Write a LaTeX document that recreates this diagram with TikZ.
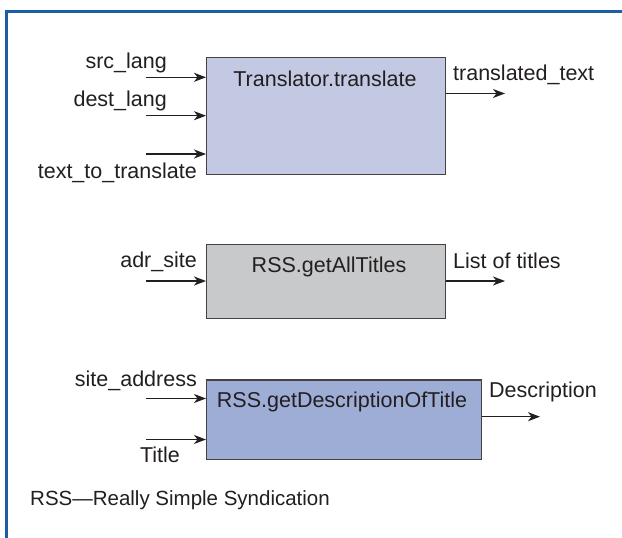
\documentclass[tikz,border=0pt]{standalone}
\usepackage{fontspec}
\setmainfont{Liberation Sans}
\usetikzlibrary{arrows.meta}
\definecolor{frameblue}{HTML}{1A5EA8}
\definecolor{ink}{HTML}{231F20}
\definecolor{boxA}{HTML}{C3C9E3}
\definecolor{boxB}{HTML}{C8C9CB}
\definecolor{boxC}{HTML}{9DADD6}
\tikzset{
  fbox/.style={draw=ink!85, line width=1.4pt, rectangle, inner sep=0pt, anchor=north west},
  lbl/.style={inner sep=0pt, text=ink, font=\fontsize{21.5}{26}\selectfont},
  conn/.style={draw=ink, line width=1.4pt, -{Stealth[length=12pt,width=9pt,inset=3.5pt]}}
}
\begin{document}
\begin{tikzpicture}[x=1pt,y=-1pt]
\useasboundingbox (0,0) rectangle (622,538);
\fill[white] (0,0) rectangle (622,538);
% frame
\draw[frameblue, line width=3pt] (6,538) -- (6,11) -- (622,11);

% Box 1
\node[fbox, fill=boxA, minimum width=239pt, minimum height=116.5pt] (tr) at (206,57) {};
\node[lbl, anchor=base] (trt) at (325,86) {Translator.translate};
\node[lbl, anchor=base east] (l1) at (167,68.5) {src\_lang};
\node[lbl, anchor=base east] (l2) at (167,106.5) {dest\_lang};
\node[lbl, anchor=base east] (l3) at (197,178.5) {text\_to\_translate};
\node[lbl, anchor=base west] (o1) at (453,80) {translated\_text};
\coordinate (a1) at (146,77.3);
\coordinate (a2) at (146,115.7);
\coordinate (a3) at (146,154);
\coordinate (b1) at (505,93.5);
\draw[conn] (a1) -- (a1 -| tr.west);
\draw[conn] (a2) -- (a2 -| tr.west);
\draw[conn] (a3) -- (a3 -| tr.west);
\draw[conn] (b1 -| tr.east) -- (b1);

% Box 2
\node[fbox, fill=boxB, minimum width=239pt, minimum height=74pt] (gt) at (206,244) {};
\node[lbl, anchor=base] (gtt) at (329,272.5) {RSS.getAllTitles};
\node[lbl, anchor=base east] (l4) at (197,267) {adr\_site};
\node[lbl, anchor=base west] (o2) at (453,268) {List of titles};
\coordinate (a4) at (146,281);
\coordinate (b2) at (505,281);
\draw[conn] (a4) -- (a4 -| gt.west);
\draw[conn] (b2 -| gt.east) -- (b2);

% Box 3
\node[fbox, fill=boxC, minimum width=275pt, minimum height=79.5pt] (gd) at (206,379.3) {};
\node[lbl, anchor=base] (gdt) at (342,407.5) {RSS.getDescriptionOfTitle};
\node[lbl, anchor=base east] (l5) at (197,386.5) {site\_address};
\node[lbl, anchor=base] (l6) at (160,462.5) {Title};
\node[lbl, anchor=base west] (o3) at (489,397.5) {Description};
\coordinate (a5) at (146,398.5);
\coordinate (a6) at (146,439.5);
\coordinate (b3) at (540,416.7);
\draw[conn] (a5) -- (a5 -| gd.west);
\draw[conn] (a6) -- (a6 -| gd.west);
\draw[conn] (b3 -| gd.east) -- (b3);

% footer
\node[lbl, anchor=base west, font=\fontsize{20.5}{24}\selectfont] (ft) at (30,505.5) {RSS---Really Simple Syndication};
\end{tikzpicture}
\end{document}
